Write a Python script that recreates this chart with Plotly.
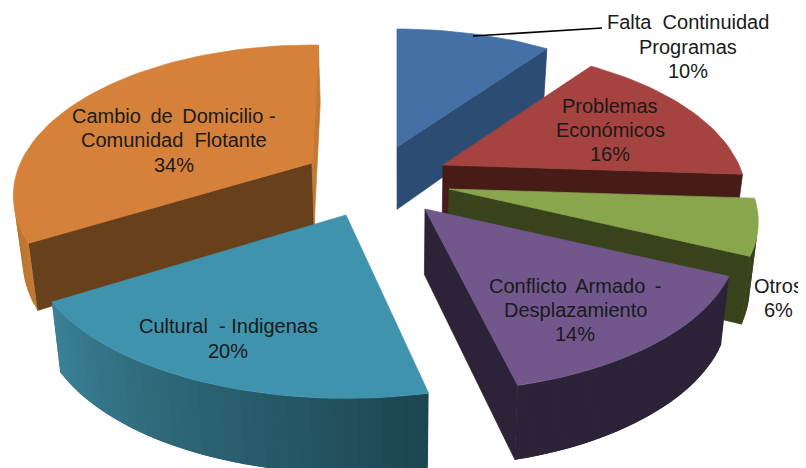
import math
import plotly.graph_objects as go

# --- data -------------------------------------------------------------
labels = [
    "Falta\u00a0 Continuidad<br>Programas",
    "Problemas<br>Económicos",
    "Otros",
    "Conflicto\u2009 Armado\u2009 -<br>Desplazamiento",
    "Cultural\u00a0 - Indigenas",
    "Cambio\u2009 de\u2009 Domicilio -<br>Comunidad\u00a0 Flotante",
]
values = [10, 16, 6, 14, 20, 34]

# --- style / placement --------------------------------------------------
tip_x = [397, 443, 449, 425, 346, 312]
tip_y = [147, 165, 189, 209, 215, 163]
x_scale = [1.0, 1.0, 1.02, 1.03, 1.04, 0.985]
start_nudge_deg = [0, 0, 0, 0, 2.2, 2.5]
end_nudge_deg = [0.5, 0, 0, 0.5, 0, 1.5]
top_colors = ["#4470A5", "#A54341", "#89A64C", "#71578C", "#3F93AD", "#D6813A"]
wall_colors = ["#2C4C73", "#471C18", "#38431C", "#2D2338", "#1E4854", "#68401B"]
rim_from = ["#2C4C73", "#471C18", "#38431C", "#2D2338", "#3B8096", "#B8732E"]
rim_to = ["#2C4C73", "#471C18", "#38431C", "#2D2338", "#1C4650", "#C27A33"]
draw_order = [5, 0, 1, 2, 3, 4]
label_x = [688, 610, 778, 575, 228, 174]
label_y = [[22, 47, 71], [106, 130, 154], [286, 310], [286, 310, 334], [326, 351], [116, 140, 165]]

A, B, P = 296.0, 143.6, 0.217   # pie radius projection and perspective
VX, SHR = 400.0, 0.976          # vanishing column for the lower face
DEPTH, DEPTH_K = 55.0, 0.05     # wall height
PAGE_MARGIN = 8                 # the page body keeps this much blank on the top and left


def project(i, theta):
    u, v = math.sin(theta), -math.cos(theta)
    w = 1 - P * v
    return tip_x[i] + x_scale[i] * A * u / w, tip_y[i] + B * v / w


def lower(pt):
    x, y = pt
    return VX + (x - VX) * SHR, y + DEPTH + DEPTH_K * y


def hex_mix(c1, c2, t):
    a = [int(c1[k:k + 2], 16) for k in (1, 3, 5)]
    b = [int(c2[k:k + 2], 16) for k in (1, 3, 5)]
    return "#%02x%02x%02x" % tuple(round(p + (q - p) * t) for p, q in zip(a, b))


def cross(p):
    return (p[1][0] - p[0][0]) * (p[2][1] - p[1][1]) - (p[1][1] - p[0][1]) * (p[2][0] - p[1][0])


fig = go.Figure()


def poly(pts, color, lw=0.7):
    xs = [p[0] for p in pts] + [pts[0][0]]
    ys = [p[1] for p in pts] + [pts[0][1]]
    fig.add_trace(go.Scatter(x=xs, y=ys, mode="lines", fill="toself", fillcolor=color,
                             line=dict(color=color, width=lw), hoverinfo="skip", showlegend=False))


total = sum(values)
starts = []
acc = 0
for v in values:
    starts.append(acc)
    acc += v

for i in draw_order:
    t0 = 2 * math.pi * starts[i] / total + math.radians(start_nudge_deg[i])
    t1 = 2 * math.pi * (starts[i] + values[i]) / total + math.radians(end_nudge_deg[i])
    tip = (tip_x[i], tip_y[i])
    n = max(8, values[i] * 2)
    arc = [project(i, t0 + (t1 - t0) * k / n) for k in range(n + 1)]

    # radial walls
    for wall in ([tip, arc[0], lower(arc[0]), lower(tip)], [arc[-1], tip, lower(tip), lower(arc[-1])]):
        if cross(wall) < 0:
            poly(wall, wall_colors[i] if i != 5 or wall[0] != arc[-1] else rim_to[i])

    # outer rim, shaded from one end to the other; each band overlaps the next
    vis = [k for k in range(n) if cross([arc[k], arc[k + 1], lower(arc[k + 1]), lower(arc[k])]) < 0]
    for pos, k in enumerate(vis):
        end = min(k + 2, vis[-1] + 1)
        upper = arc[k:end + 1]
        seg = upper + [lower(p) for p in reversed(upper)]
        poly(seg, hex_mix(rim_from[i], rim_to[i], 1 - pos / max(1, len(vis) - 1)), lw=0)

    # top face
    poly([tip] + arc, top_colors[i])

# leader line for the first slice
fig.add_trace(go.Scatter(x=[473, 602], y=[36, 28], mode="lines", line=dict(color="#000000", width=1.6),
                         hoverinfo="skip", showlegend=False))

# labels
for i in range(len(values)):
    lines = labels[i].split("<br>") + [f"{values[i]}%"]
    for text, y in zip(lines, label_y[i]):
        fig.add_annotation(x=label_x[i], y=y, text=text, showarrow=False, xanchor="center", yanchor="middle",
                           font=dict(family="Liberation Sans, Arial, sans-serif", size=20, color="#1a1a1a"))

fig.update_layout(width=806 - PAGE_MARGIN, height=468 - PAGE_MARGIN, margin=dict(l=0, r=0, t=0, b=0),
                  showlegend=False, paper_bgcolor="white", plot_bgcolor="white",
                  xaxis=dict(range=[PAGE_MARGIN, 806], visible=False, fixedrange=True),
                  yaxis=dict(range=[468, PAGE_MARGIN], visible=False, fixedrange=True))
fig.write_html("out.html", config={"displayModeBar": False})
